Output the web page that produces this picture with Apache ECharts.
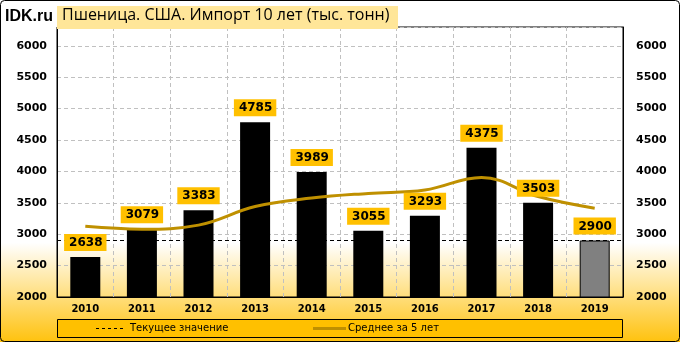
<!DOCTYPE html>
<html><head><meta charset="utf-8">
<script src="https://cdn.jsdelivr.net/npm/echarts@6/dist/echarts.min.js"></script>
<style>html,body{margin:0;padding:0;background:#fff}#c{width:680px;height:342px}</style>
</head><body><div id="c"></div>
<script>
var years = ['2010','2011','2012','2013','2014','2015','2016','2017','2018','2019'];
var imports = [2638, 3079, 3383, 4785, 3989, 3055, 3293, 4375, 3503, 2900];
var avg5 = [3125, 3080, 3145, 3440, 3575, 3650, 3705, 3905, 3600, 3415];
var currentValue = 2900;
var yTicks = [2000, 2500, 3000, 3500, 4000, 4500, 5000, 5500, 6000];
var legendNames = ['Текущее значение', 'Среднее за 5 лет'];

var chart = echarts.init(document.getElementById('c'), null, {renderer:'canvas'});
var axisFont = {fontFamily:'DejaVu Sans', fontWeight:'bold', fontSize:11, color:'#000'};
function yFmt(v){ return yTicks.indexOf(v) >= 0 ? String(v) : ''; }
var barData = imports.map(function(v,i){
  return i === imports.length-1 ? {value:v, itemStyle:{color:'#808080', borderColor:'#000', borderWidth:1}} : v;
});
chart.setOption({
  animation:false,
  backgroundColor:{type:'linear',x:0,y:0,x2:0,y2:1,colorStops:[
    {offset:0,color:'#ffffff'},{offset:0.71,color:'#ffffff'},{offset:1,color:'#ffc20e'}]},
  graphic:[
    {type:'rect', shape:{x:0.5,y:0.5,width:679,height:341,r:4}, style:{fill:'none',stroke:'#000',lineWidth:1}, z:100},
    {type:'rect', shape:{x:57,y:6,width:341,height:23}, style:{fill:'#ffe699'}, z:1},
    {type:'text', x:5, y:9, style:{text:'IDK.ru', font:'bold 16px "Liberation Sans"', fill:'#000'}, z:2},
    {type:'text', x:62, y:7, style:{text:'Пшеница. США. Импорт 10 лет (тыс. тонн)', font:'16px "Open Sans"', fill:'#000'}, z:2},
    {type:'rect', shape:{x:57.5,y:319.5,width:565,height:18}, style:{fill:'#ffc000',stroke:'#000',lineWidth:1}, z:1},
    {type:'line', shape:{x1:96,y1:328.5,x2:126,y2:328.5}, style:{stroke:'#000',lineWidth:1,lineDash:[3,3]}, z:2},
    {type:'text', x:130, y:323, style:{text:legendNames[0], font:'10px "DejaVu Sans"', fill:'#000'}, z:2},
    {type:'line', shape:{x1:313,y1:328.5,x2:346,y2:328.5}, style:{stroke:'#bf9000',lineWidth:3}, z:2},
    {type:'text', x:348, y:323, style:{text:legendNames[1], font:'10px "DejaVu Sans"', fill:'#000'}, z:2}
  ],
  grid:{left:57, right:57, top:27, bottom:45, show:true, borderColor:'#000', borderWidth:1, backgroundColor:'transparent'},
  xAxis:{
    type:'category', data:years, boundaryGap:true,
    axisLine:{show:true, lineStyle:{color:'#000'}}, axisTick:{show:false},
    axisLabel:{fontFamily:'DejaVu Sans', fontWeight:'bold', fontSize:10, color:'#000', margin:7},
    splitLine:{show:true, lineStyle:{color:'#c0c0c0', type:[4,3], width:1}}
  },
  yAxis:[
    {type:'value', min:2000, max:6300, interval:500, position:'left',
     axisLine:{show:true, lineStyle:{color:'#000'}}, axisTick:{show:false},
     axisLabel:Object.assign({margin:10, formatter:yFmt}, axisFont),
     splitLine:{show:true, lineStyle:{color:'#c0c0c0', type:[4,3], width:1}}},
    {type:'value', min:2000, max:6300, interval:500, position:'right',
     axisLine:{show:true, lineStyle:{color:'#000'}}, axisTick:{show:false},
     axisLabel:Object.assign({margin:13, formatter:yFmt}, axisFont),
     splitLine:{show:false}}
  ],
  series:[
    {name:'Импорт', type:'bar', data:barData, barWidth:30, itemStyle:{color:'#000'},
     markLine:{silent:true, symbol:'none', label:{show:false}, lineStyle:{color:'#000', type:[4,3], width:1},
               data:[{yAxis:currentValue}]}, z:2},
    {name:legendNames[1], type:'line', data:avg5, smooth:0.4, symbol:'none',
     lineStyle:{color:'#bf9000', width:3}, itemStyle:{color:'#bf9000'}, z:4},
    {name:'labels', type:'scatter', data:imports, symbolSize:0, silent:true,
     itemStyle:{opacity:1, color:'#ffc000'},
     label:{show:true, position:'top', distance:6, backgroundColor:'#ffc000', padding:[3,4,2,5],
            fontFamily:'DejaVu Sans', fontWeight:'bold', fontSize:12, color:'#000'}, z:6}
  ]
});
</script></body></html>
